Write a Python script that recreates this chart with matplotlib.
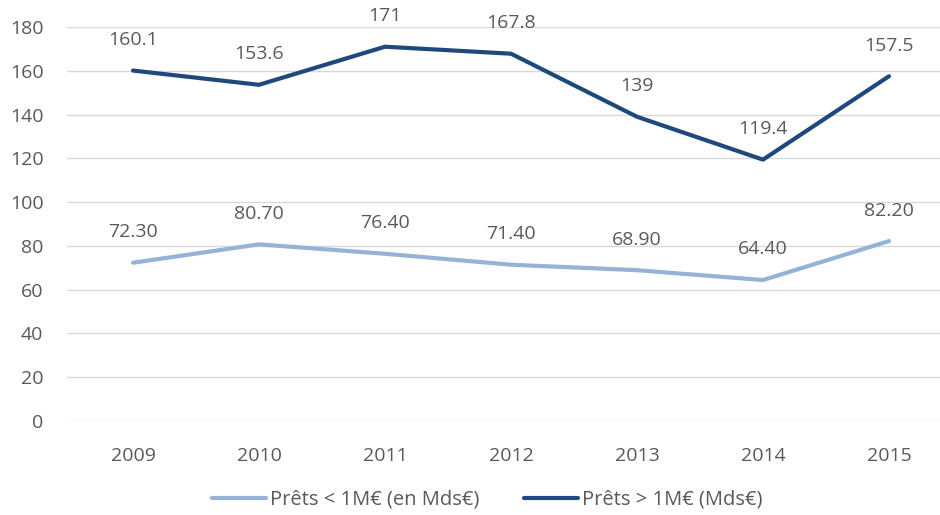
import numpy as np
import matplotlib.pyplot as plt

years = ["2009", "2010", "2011", "2012", "2013", "2014", "2015"]
small_loans = [72.30, 80.70, 76.40, 71.40, 68.90, 64.40, 82.20]
big_loans = [160.1, 153.6, 171, 167.8, 139, 119.4, 157.5]
small_labels = ["72.30", "80.70", "76.40", "71.40", "68.90", "64.40", "82.20"]
big_labels = ["160.1", "153.6", "171", "167.8", "139", "119.4", "157.5"]

plt.rcParams['font.family'] = ['Open Sans', 'DejaVu Sans']

light = "#95b3d7"
dark = "#1f497d"
txt = "#595959"

fig = plt.figure(figsize=(9.4, 5.15), dpi=100)
ax = fig.add_axes([67/940, 1 - 421/515, 1 - 67/940, (421 - 27)/515])

x = np.arange(len(years))
ax.plot(x, small_loans, color=light, lw=3.0, solid_capstyle="round",
        label="Prêts < 1M€ (en Mds€)", zorder=3)
ax.plot(x, big_loans, color=dark, lw=3.0, solid_capstyle="round",
        label="Prêts > 1M€ (Mds€)", zorder=3)

for xi, v, s in zip(x, small_loans, small_labels):
    ax.annotate(s, (xi, v), xytext=(0, 22), textcoords="offset points",
                ha="center", va="center", fontsize=14, color=txt)
for xi, v, s in zip(x, big_loans, big_labels):
    ax.annotate(s, (xi, v), xytext=(0, 22), textcoords="offset points",
                ha="center", va="center", fontsize=14, color=txt)

ax.set_ylim(0, 180)
ax.set_yticks(range(0, 181, 20))
ax.set_xlim(-0.524, 6.405)
ax.set_xticks(x)
ax.set_xticklabels(years)
ax.grid(axis="y", color="#d9d9d9", lw=1)
ax.set_axisbelow(True)
for sp in ax.spines.values():
    sp.set_visible(False)
ax.tick_params(axis="both", length=0, labelsize=14, labelcolor=txt)
ax.tick_params(axis="y", pad=17)
ax.tick_params(axis="x", pad=19)

fig.legend(loc="center", bbox_to_anchor=(487/940, 1 - 500/515), ncol=2,
           frameon=False, fontsize=14.5, labelcolor=txt, handlelength=2.7,
           handletextpad=0.2, columnspacing=2.2)

fig.savefig("out.png", dpi=100)
